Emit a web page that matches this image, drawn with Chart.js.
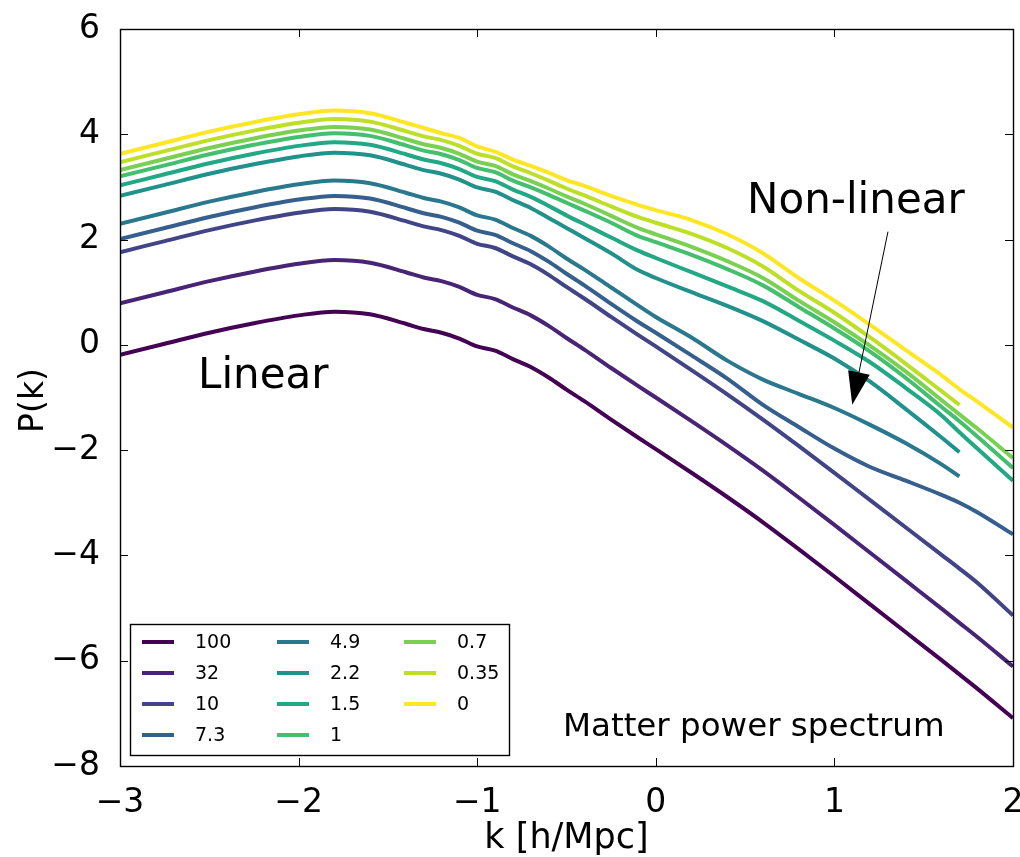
<!DOCTYPE html>
<html lang="en">
<head>
    <meta charset="UTF-8" />
    <title>Matter power spectrum</title>
    <script src="https://cdn.jsdelivr.net/npm/chart.js"></script>
    <style>
        html, body { margin: 0; padding: 0; background: #fff; }
        #wrap { width: 1020px; height: 857px; }
    </style>
</head>
<body>
<div id="wrap"><canvas id="pk" width="1020" height="857"></canvas></div>
<script>
// log10 k grid (h/Mpc)
var logK = [-3, -2.75, -2.5, -2.25, -2, -1.8, -1.6, -1.4, -1.3, -1.2, -1.1, -1.0, -0.9, -0.8, -0.7, -0.6,
            -0.5, -0.4, -0.25, -0.1, 0, 0.2, 0.4, 0.6, 0.8, 1.0, 1.2, 1.4, 1.6, 1.7, 1.8, 2.0];

// redshift labels, in legend order
var redshifts = ['100', '32', '10', '7.3', '4.9', '2.2', '1.5', '1', '0.7', '0.35', '0'];

// log10 P(k), one array per redshift (some stop at log k = 1.7)
var pk_z100 = [-0.19, 0.02, 0.23, 0.41, 0.56, 0.63, 0.58, 0.40, 0.30, 0.23, 0.12, -0.03, -0.11, -0.27, -0.42, -0.62,
               -0.85, -1.07, -1.42, -1.76, -1.98, -2.43, -2.89, -3.37, -3.88, -4.40, -4.93, -5.46, -5.99, -6.26, -6.53, -7.09];
var pk_z32  = [0.79, 1.00, 1.21, 1.39, 1.54, 1.61, 1.56, 1.38, 1.28, 1.21, 1.10, 0.95, 0.87, 0.71, 0.56, 0.36,
               0.13, -0.09, -0.44, -0.78, -1.00, -1.45, -1.91, -2.39, -2.90, -3.42, -3.95, -4.48, -5.01, -5.28, -5.55, -6.11];
var pk_z10  = [1.76, 1.97, 2.18, 2.36, 2.51, 2.58, 2.53, 2.35, 2.25, 2.18, 2.07, 1.92, 1.84, 1.68, 1.53, 1.33,
               1.10, 0.88, 0.53, 0.19, -0.03, -0.48, -0.94, -1.42, -1.92, -2.43, -2.95, -3.47, -3.99, -4.25, -4.52, -5.14];
var pk_z7_3 = [2.01, 2.22, 2.43, 2.61, 2.76, 2.83, 2.78, 2.60, 2.50, 2.43, 2.32, 2.17, 2.09, 1.93, 1.78, 1.58,
               1.35, 1.13, 0.78, 0.44, 0.23, -0.20, -0.64, -1.14, -1.56, -1.97, -2.32, -2.58, -2.85, -3.00, -3.18, -3.60];
var pk_z4_9 = [2.30, 2.51, 2.72, 2.90, 3.05, 3.12, 3.07, 2.89, 2.79, 2.72, 2.61, 2.46, 2.38, 2.22, 2.07, 1.87,
               1.64, 1.43, 1.09, 0.75, 0.53, 0.14, -0.30, -0.66, -0.93, -1.20, -1.52, -1.87, -2.27, -2.50];
var pk_z2_2 = [2.83, 3.04, 3.25, 3.43, 3.58, 3.65, 3.60, 3.42, 3.32, 3.25, 3.14, 2.99, 2.91, 2.75, 2.60, 2.41,
               2.22, 2.03, 1.74, 1.42, 1.27, 1.00, 0.74, 0.45, 0.10, -0.26, -0.70, -1.22, -1.76, -2.04];
var pk_z1_5 = [3.03, 3.24, 3.45, 3.63, 3.78, 3.85, 3.80, 3.62, 3.52, 3.45, 3.34, 3.19, 3.11, 2.95, 2.81, 2.64,
               2.46, 2.29, 2.04, 1.79, 1.65, 1.38, 1.11, 0.83, 0.46, 0.08, -0.33, -0.82, -1.34, -1.66, -1.97, -2.58];
var pk_z1   = [3.20, 3.41, 3.62, 3.80, 3.95, 4.02, 3.97, 3.79, 3.69, 3.62, 3.51, 3.36, 3.28, 3.12, 2.99, 2.85,
               2.70, 2.55, 2.32, 2.07, 1.95, 1.71, 1.44, 1.13, 0.72, 0.31, -0.13, -0.63, -1.18, -1.45, -1.74, -2.34];
var pk_z0_7 = [3.32, 3.53, 3.74, 3.92, 4.07, 4.14, 4.09, 3.91, 3.81, 3.74, 3.63, 3.48, 3.40, 3.24, 3.11, 2.97,
               2.82, 2.68, 2.45, 2.22, 2.10, 1.86, 1.59, 1.27, 0.84, 0.43, -0.02, -0.51, -1.05, -1.32, -1.59, -2.15];
var pk_z0_35 = [3.47, 3.68, 3.89, 4.07, 4.22, 4.29, 4.24, 4.06, 3.96, 3.89, 3.78, 3.63, 3.55, 3.39, 3.26, 3.12,
                2.97, 2.84, 2.63, 2.43, 2.32, 2.11, 1.84, 1.49, 1.03, 0.61, 0.14, -0.36, -0.88, -1.14];
var pk_z0   = [3.63, 3.84, 4.05, 4.23, 4.38, 4.45, 4.40, 4.22, 4.12, 4.02, 3.93, 3.77, 3.67, 3.52, 3.40, 3.27,
               3.13, 3.02, 2.83, 2.66, 2.56, 2.37, 2.10, 1.74, 1.27, 0.84, 0.38, -0.10, -0.58, -0.84, -1.08, -1.57];

var xTicks = [-3, -2, -1, 0, 1, 2];
var yTicks = [-8, -6, -4, -2, 0, 2, 4, 6];

// viridis, one colour per redshift
var colors = ['#440154', '#482475', '#414487', '#355f8d', '#2a788e', '#21918c',
              '#22a884', '#44bf70', '#7ad151', '#bddf26', '#fde725'];

var series = [pk_z100, pk_z32, pk_z10, pk_z7_3, pk_z4_9, pk_z2_2, pk_z1_5, pk_z1, pk_z0_7, pk_z0_35, pk_z0];

function minusFmt(v) {
    return v < 0 ? '\u2212' + Math.abs(v) : String(v);
}

var datasets = series.map(function (vals, i) {
    var pts = [];
    for (var j = 0; j < vals.length; j++) {
        pts.push({ x: logK[j], y: vals[j] });
    }
    return {
        label: redshifts[i],
        data: pts,
        borderColor: colors[i],
        backgroundColor: colors[i],
        borderWidth: 4,
        pointRadius: 0,
        fill: false,
        cubicInterpolationMode: 'monotone'
    };
});

var FONT = "'DejaVu Sans', sans-serif";

// frame, inward ticks, labels, annotations and the legend box
var decorations = {
    id: 'decorations',
    afterDraw: function (chart) {
        var c = chart.ctx;
        var a = chart.chartArea;
        var xs = chart.scales.x, ys = chart.scales.y;
        c.save();
        c.strokeStyle = '#000';
        c.lineWidth = 1.4;
        c.strokeRect(a.left + 0.5, a.top + 0.5, a.right - a.left, a.bottom - a.top);

        var tl = 8;
        c.lineWidth = 1;
        c.beginPath();
        xTicks.forEach(function (t) {
            var px = Math.round(xs.getPixelForValue(t)) + 0.5;
            c.moveTo(px, a.bottom); c.lineTo(px, a.bottom - tl);
            c.moveTo(px, a.top); c.lineTo(px, a.top + tl);
        });
        yTicks.forEach(function (t) {
            var py = Math.round(ys.getPixelForValue(t)) + 0.5;
            c.moveTo(a.left, py); c.lineTo(a.left + tl, py);
            c.moveTo(a.right, py); c.lineTo(a.right - tl, py);
        });
        c.stroke();

        // axis titles
        c.fillStyle = '#000';
        c.textAlign = 'center';
        c.textBaseline = 'alphabetic';
        c.font = '35px ' + FONT;
        c.fillText('k [h/Mpc]', (a.left + a.right) / 2, 848);
        c.font = '33px ' + FONT;
        c.save();
        c.translate(43, (a.top + a.bottom) / 2 + 3);
        c.rotate(-Math.PI / 2);
        c.fillText('P(k)', 0, 0);
        c.restore();

        // annotations
        c.textAlign = 'left';
        c.font = '42px ' + FONT;
        c.fillText('Linear', xs.getPixelForValue(-2.563), ys.getPixelForValue(-0.82));
        c.fillText('Non-linear', xs.getPixelForValue(0.511), ys.getPixelForValue(2.51));
        c.font = '32.5px ' + FONT;
        c.fillText('Matter power spectrum', xs.getPixelForValue(-0.52), ys.getPixelForValue(-7.43));

        // arrow
        var x0 = xs.getPixelForValue(1.30), y0 = ys.getPixelForValue(2.15);
        var x1 = xs.getPixelForValue(1.10), y1 = ys.getPixelForValue(-1.14);
        var ang = Math.atan2(y1 - y0, x1 - x0);
        var hl = 33, hw = 11;
        var bx = x1 - hl * Math.cos(ang), by = y1 - hl * Math.sin(ang);
        c.lineWidth = 1;
        c.beginPath();
        c.moveTo(x0, y0); c.lineTo(bx, by);
        c.stroke();
        c.beginPath();
        c.moveTo(x1, y1);
        c.lineTo(bx + hw * Math.sin(ang), by - hw * Math.cos(ang));
        c.lineTo(bx - hw * Math.sin(ang), by + hw * Math.cos(ang));
        c.closePath();
        c.fill();

        // legend: 3 columns, filled top to bottom
        var lx = 130.5, ly = 624.5, lw = 379, lh = 131;
        c.fillStyle = '#fff';
        c.fillRect(lx, ly, lw, lh);
        c.strokeStyle = '#000';
        c.lineWidth = 1.4;
        c.strokeRect(lx, ly, lw, lh);
        var colX = [142, 277, 404];
        var rowY = [642, 673, 704, 735];
        c.font = '19px ' + FONT;
        c.textBaseline = 'middle';
        chart.data.datasets.forEach(function (ds, i) {
            var col = Math.floor(i / 4), row = i % 4;
            var sx = colX[col], sy = rowY[row];
            c.strokeStyle = ds.borderColor;
            c.lineWidth = 4;
            c.beginPath();
            c.moveTo(sx, sy); c.lineTo(sx + 32, sy);
            c.stroke();
            c.fillStyle = '#000';
            c.fillText(ds.label, sx + 53, sy + 1);
        });
        c.restore();
    }
};

var ctx = document.getElementById('pk').getContext('2d');
var chart = new Chart(ctx, {
    type: 'line',
    data: { datasets: datasets },
    options: {
        responsive: false,
        animation: false,
        devicePixelRatio: 1,
        layout: { padding: { top: 29, right: 7, left: 0, bottom: 0 } },
        plugins: {
            legend: { display: false },
            tooltip: { enabled: false }
        },
        scales: {
            x: {
                type: 'linear',
                min: -3, max: 2,
                afterFit: function (s) {
                    s.height = 91;
                    s.paddingLeft = 0;
                    s.paddingRight = 0;
                },
                afterBuildTicks: function (s) { s.ticks = xTicks.map(function (v) { return { value: v }; }); },
                grid: { display: false },
                border: { display: false },
                ticks: {
                    color: '#000',
                    padding: 10,
                    maxRotation: 0,
                    font: { family: 'DejaVu Sans', size: 33 },
                    callback: minusFmt
                }
            },
            y: {
                type: 'linear',
                min: -8, max: 6,
                afterFit: function (s) {
                    s.width = 120;
                    s.paddingTop = 0;
                    s.paddingBottom = 0;
                },
                afterBuildTicks: function (s) { s.ticks = yTicks.map(function (v) { return { value: v }; }); },
                grid: { display: false },
                border: { display: false },
                ticks: {
                    color: '#000',
                    padding: 12,
                    font: { family: 'DejaVu Sans', size: 33 },
                    callback: minusFmt
                }
            }
        }
    },
    plugins: [decorations]
});
</script>
</body>
</html>
